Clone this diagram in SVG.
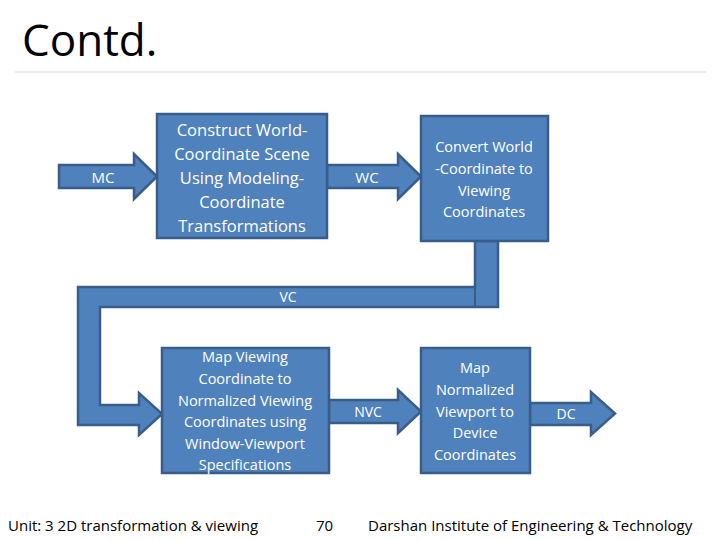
<svg xmlns="http://www.w3.org/2000/svg" width="720" height="540" viewBox="0 0 720 540">
<style>
.s{fill:#4F81BD;stroke:#385D8A;stroke-width:2.5;stroke-linejoin:miter}
.t{font-family:"Open Sans","Liberation Sans",sans-serif;fill:#fff;text-anchor:middle}
.f{font-family:"Open Sans","Liberation Sans",sans-serif;fill:#000;font-size:15px}
</style>
<rect width="720" height="540" fill="#fff"/>
<text x="22" y="56" font-family="Open Sans,Liberation Sans,sans-serif" font-size="44" fill="#000">Contd.</text>
<line x1="15" y1="72" x2="706" y2="72" stroke="#d9d9d9" stroke-width="1.2"/>
<g id="connectors">
<g id="mc"><path class="s" d="M59,165 H134 V154 L157,176.5 L134,199 V188 H59 Z"/><text class="t" x="103" y="183" font-size="15">MC</text></g>
<g id="wc"><path class="s" d="M327,165 H398 V154 L421,176.5 L398,199 V188 H327 Z"/><text class="t" x="367" y="183" font-size="15">WC</text></g>
<g id="vc"><path class="s" d="M475,241 V287 H78 V425 H139 V435 L162,414 L139,393 V405 H100 V307 H498 V241 Z"/><line x1="475" y1="287" x2="475" y2="307" stroke="#385D8A" stroke-width="2"/><text class="t" x="288" y="302" font-size="14">VC</text></g>
<g id="nvc"><path class="s" d="M329,400 H398 V390 L421,411.5 L398,433 V423 H329 Z"/><text class="t" x="368" y="417" font-size="14">NVC</text></g>
<g id="dc"><path class="s" d="M530,403 H591 V392 L615,413.5 L591,435 V425 H530 Z"/><text class="t" x="566" y="419" font-size="14">DC</text></g>
</g>
<g id="box1"><rect class="s" x="157" y="114" width="170" height="124"/>
<text class="t" font-size="16.5"><tspan x="242" y="136">Construct World-</tspan><tspan x="242" y="160">Coordinate Scene</tspan><tspan x="242" y="184">Using Modeling-</tspan><tspan x="242" y="208">Coordinate</tspan><tspan x="242" y="232">Transformations</tspan></text></g>
<g id="box2"><rect class="s" x="421" y="116" width="127" height="125"/>
<text class="t" font-size="14.5"><tspan x="484" y="152">Convert World</tspan><tspan x="484" y="174">-Coordinate to</tspan><tspan x="484" y="196">Viewing</tspan><tspan x="484" y="217">Coordinates</tspan></text></g>
<g id="box3"><rect class="s" x="162" y="348" width="167" height="125"/>
<text class="t" font-size="14.5"><tspan x="245" y="362">Map Viewing</tspan><tspan x="245" y="384">Coordinate to</tspan><tspan x="245" y="406">Normalized Viewing</tspan><tspan x="245" y="427">Coordinates using</tspan><tspan x="245" y="449">Window-Viewport</tspan><tspan x="245" y="470">Specifications</tspan></text></g>
<g id="box4"><rect class="s" x="421" y="348" width="109" height="125"/>
<text class="t" font-size="14.5"><tspan x="475" y="373">Map</tspan><tspan x="475" y="395">Normalized</tspan><tspan x="475" y="417">Viewport to</tspan><tspan x="475" y="438">Device</tspan><tspan x="475" y="460">Coordinates</tspan></text></g>
<text class="f" x="8" y="531">Unit: 3 2D transformation &amp; viewing</text>
<text class="f" x="316" y="531">70</text>
<text class="f" x="368" y="531">Darshan Institute of Engineering &amp; Technology</text>
</svg>
